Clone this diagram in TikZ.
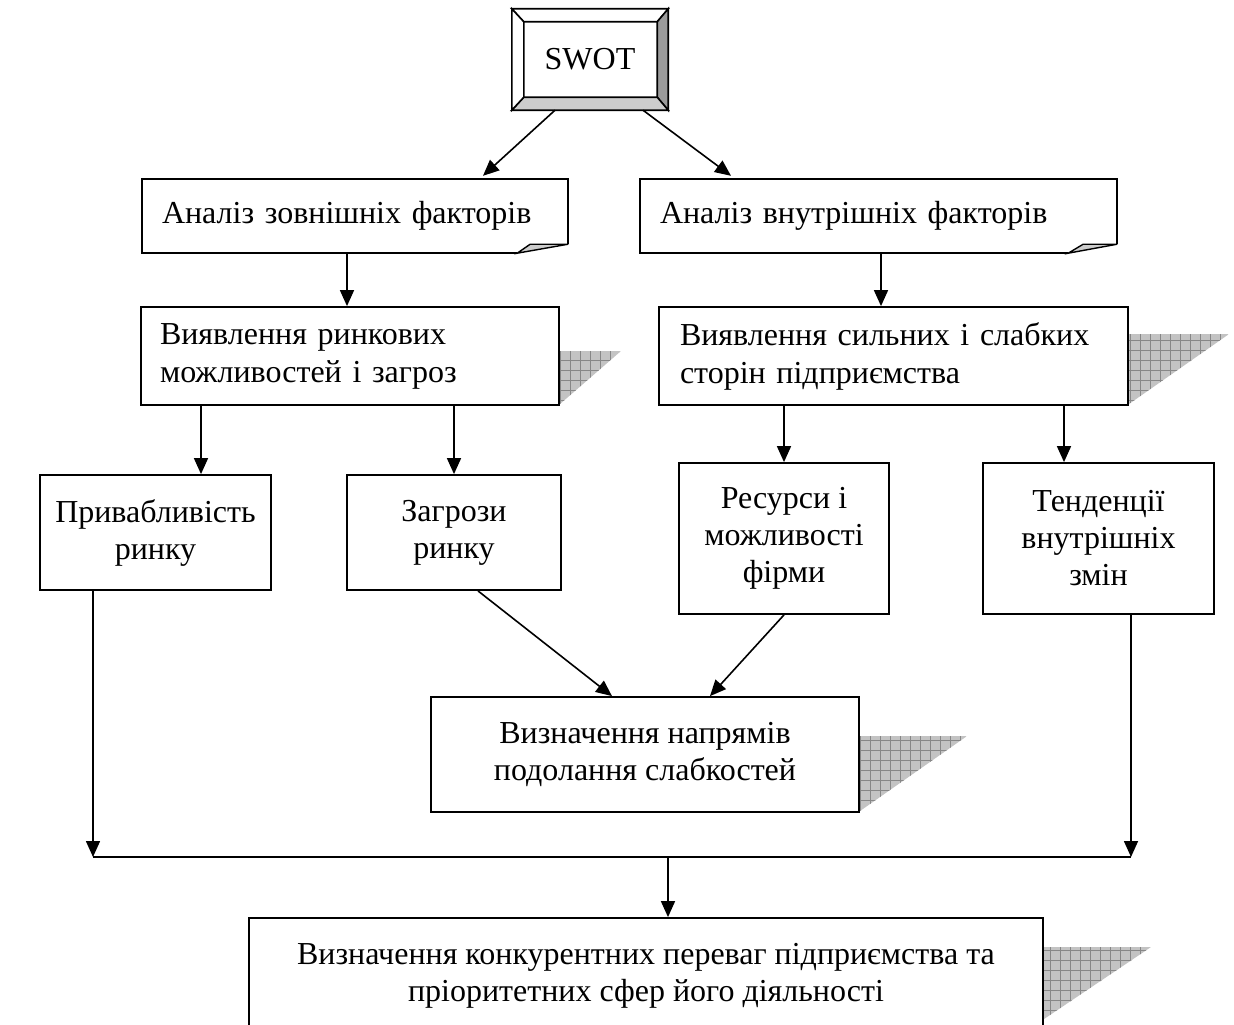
\documentclass[tikz,border=0pt]{standalone}
\usepackage{fontspec}
\setmainfont{Liberation Serif}
\usetikzlibrary{arrows.meta,calc}
\definecolor{shfill}{RGB}{195,195,195}
\definecolor{shline}{RGB}{135,135,135}
\definecolor{bevR}{RGB}{155,155,155}
\definecolor{bevB}{RGB}{205,205,205}
\newcommand\shtri[4]{%
  \begin{scope}
    \clip ([yshift=-#2pt]#1.north east) -- ++(#4,0) -- ([yshift=-#3pt]#1.north east) -- cycle;
    \fill[shfill] ([yshift=-#2pt]#1.north east) rectangle ++(#4,200);
    \draw[shline,line width=0.7pt,step=10pt] ([yshift=-#2pt]#1.north east) grid ++(#4,200);
  \end{scope}}
\begin{document}
\begin{tikzpicture}[x=1pt,y=-1pt,
  every node/.style={font=\fontsize{32}{37}\selectfont},
  box/.style={draw,line width=1.8pt,rectangle,align=center,inner sep=0pt},
  lbox/.style={rectangle,align=left,inner ysep=0pt},
  arr/.style={line width=1.6pt,-{Triangle[length=16pt,width=14pt]}},
  ln/.style={line width=1.6pt}]
\useasboundingbox (0,0) rectangle (1234,1025);
\clip (0,0) rectangle (1234,1025);

% SWOT bevelled box
\node[rectangle,minimum width=156pt,minimum height=101pt,inner sep=0pt] (swot) at (590,59.5) {};
\coordinate (s1) at ([xshift=12pt,yshift=-13pt]swot.north west);
\coordinate (s2) at ([xshift=-11pt,yshift=-13pt]swot.north east);
\coordinate (s3) at ([xshift=-11pt,yshift=13pt]swot.south east);
\coordinate (s4) at ([xshift=12pt,yshift=13pt]swot.south west);
\begin{scope}[line width=1.6pt,line join=miter]
\filldraw[fill=white] (swot.north west) -- (swot.north east) -- (s2) -- (s1) -- cycle;
\filldraw[fill=bevR] (swot.north east) -- (swot.south east) -- (s3) -- (s2) -- cycle;
\filldraw[fill=bevB] (swot.south east) -- (swot.south west) -- (s4) -- (s3) -- cycle;
\filldraw[fill=white] (swot.south west) -- (swot.north west) -- (s1) -- (s4) -- cycle;
\end{scope}
\node (swottext) at (swot.center) {SWOT};

% Analysis boxes with folded corner
\node[lbox,text width=386pt,inner xsep=20pt,minimum height=74pt] (a1) at (355,216) {Аналіз зовнішніх факторів};
\node[lbox,text width=437pt,inner xsep=20pt,minimum height=74pt] (a2) at (878.5,216) {Аналіз внутрішніх факторів};
\foreach \n/\fa/\fb in {a1/51/38, a2/49/34}{
  \draw[line width=1.8pt,line join=miter] ([yshift=9pt]\n.south east) -- (\n.north east) -- (\n.north west) -- (\n.south west) -- ([xshift=-\fa pt]\n.south east);
  \filldraw[fill=bevB,line width=1.4pt,line join=miter] ([xshift=-\fa pt]\n.south east) -- ([xshift=-\fb pt,yshift=9pt]\n.south east) -- ([yshift=9pt]\n.south east) -- cycle;
}

% Identification boxes
\node[lbox,draw,line width=1.8pt,text width=380pt,inner xsep=19pt,minimum height=98pt] (b3) at (350,356) {Виявлення ринкових\\[1pt]можливостей і загроз};
\node[lbox,draw,line width=1.8pt,text width=427pt,inner xsep=21pt,minimum height=98pt] (b4) at (893.5,356) {Виявлення сильних і слабких\\[1pt]сторін підприємства};

% Row boxes
\node[box,minimum width=231pt,minimum height=115pt] (r1) at (155.5,532.5) {Привабливість\\ринку};
\node[box,minimum width=214pt,minimum height=115pt] (r2) at (454,532.5) {Загрози\\ринку};
\node[box,minimum width=210pt,minimum height=151pt] (r3) at (784,538.5) {Ресурси і\\можливості\\фірми};
\node[box,minimum width=231pt,minimum height=151pt] (r4) at (1098.5,538.5) {Тенденції\\внутрішніх\\змін};

\node[box,minimum width=428pt,minimum height=115pt] (n) at (645,754.5) {Визначення напрямів\\подолання слабкостей};

\node[box,minimum width=794pt,minimum height=116pt] (fin) at (646,976) {Визначення конкурентних переваг підприємства та\\пріоритетних сфер його діяльності};

% shadows
\shtri{b3}{45}{98}{61}
\shtri{b4}{28}{98}{100}
\shtri{n}{40}{115}{107}
\shtri{fin}{30}{102}{107}

% connectors
\draw[arr] ([xshift=-35pt]swot.south) -- ([xshift=128pt,yshift=3pt]a1.north);
\draw[arr] ([xshift=53pt]swot.south) -- ([xshift=-147.5pt,yshift=3pt]a2.north);
\draw[arr] (a1.south -| 347,0) -- (b3.north -| 347,0);
\draw[arr] (a2.south -| 881,0) -- (b4.north -| 881,0);
\draw[arr] (b3.south -| 201,0) -- (r1.north -| 201,0);
\draw[arr] (b3.south -| 454,0) -- (r2.north -| 454,0);
\draw[arr] (b4.south -| 784,0) -- (r3.north -| 784,0);
\draw[arr] (b4.south -| 1064,0) -- (r4.north -| 1064,0);
\draw[arr] ([xshift=24pt]r2.south) -- ([xshift=-33pt]n.north);
\draw[arr] (r3.south) -- ([xshift=65pt]n.north);

\coordinate (jl) at (93,857);
\coordinate (jr) at (1131,857);
\coordinate (jm) at (668,857);
\draw[arr] (r1.south -| jl) -- (jl);
\draw[arr] (r4.south -| jr) -- (jr);
\draw[ln] (jl) -- (jr);
\draw[arr] (jm) -- (fin.north -| jm);
\end{tikzpicture}
\end{document}
